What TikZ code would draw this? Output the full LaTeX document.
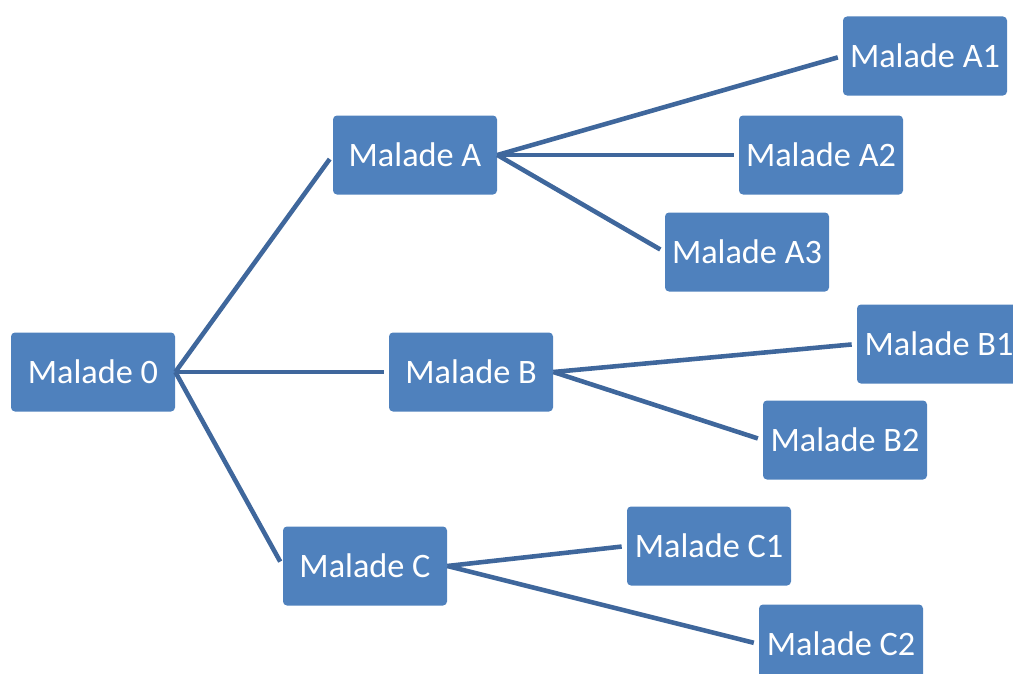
\documentclass[tikz,border=0pt]{standalone}
\usepackage{fontspec}
\setmainfont{Carlito}
\definecolor{boxblue}{HTML}{4F81BD}
\definecolor{linkblue}{HTML}{3F679C}
\tikzset{
  malade/.style={fill=boxblue, text=white, rounded corners=0.08cm, minimum width=3.28cm,
    minimum height=1.58cm, inner sep=0pt, font=\fontsize{19.5}{22}\selectfont},
  link/.style={draw=linkblue, line width=2.6pt, shorten >=0.1cm}
}
\begin{document}
\begin{tikzpicture}
  \useasboundingbox (0,0) rectangle (20.26,-13.48);
  \node[malade] (m0) at (1.86,-7.44) {Malade 0};
  \node[malade] (a) at (8.30,-3.10) {Malade A};
  \node[malade] (b) at (9.42,-7.44) {Malade B};
  \node[malade] (c) at (7.30,-11.32) {Malade C};
  \node[malade] (a1) at (18.50,-1.12) {Malade A1};
  \node[malade] (a2) at (16.42,-3.10) {Malade A2};
  \node[malade] (a3) at (14.94,-5.04) {Malade A3};
  \node[malade] (b1) at (18.78,-6.88) {Malade B1};
  \node[malade] (b2) at (16.90,-8.80) {Malade B2};
  \node[malade] (c1) at (14.18,-10.92) {Malade C1};
  \node[malade] (c2) at (16.82,-12.88) {Malade C2};
  \foreach \from/\to in {m0/a,m0/b,m0/c,a/a1,a/a2,a/a3,b/b1,b/b2,c/c1,c/c2}
    \draw[link] (\from.east) -- (\to.west);
\end{tikzpicture}
\end{document}
